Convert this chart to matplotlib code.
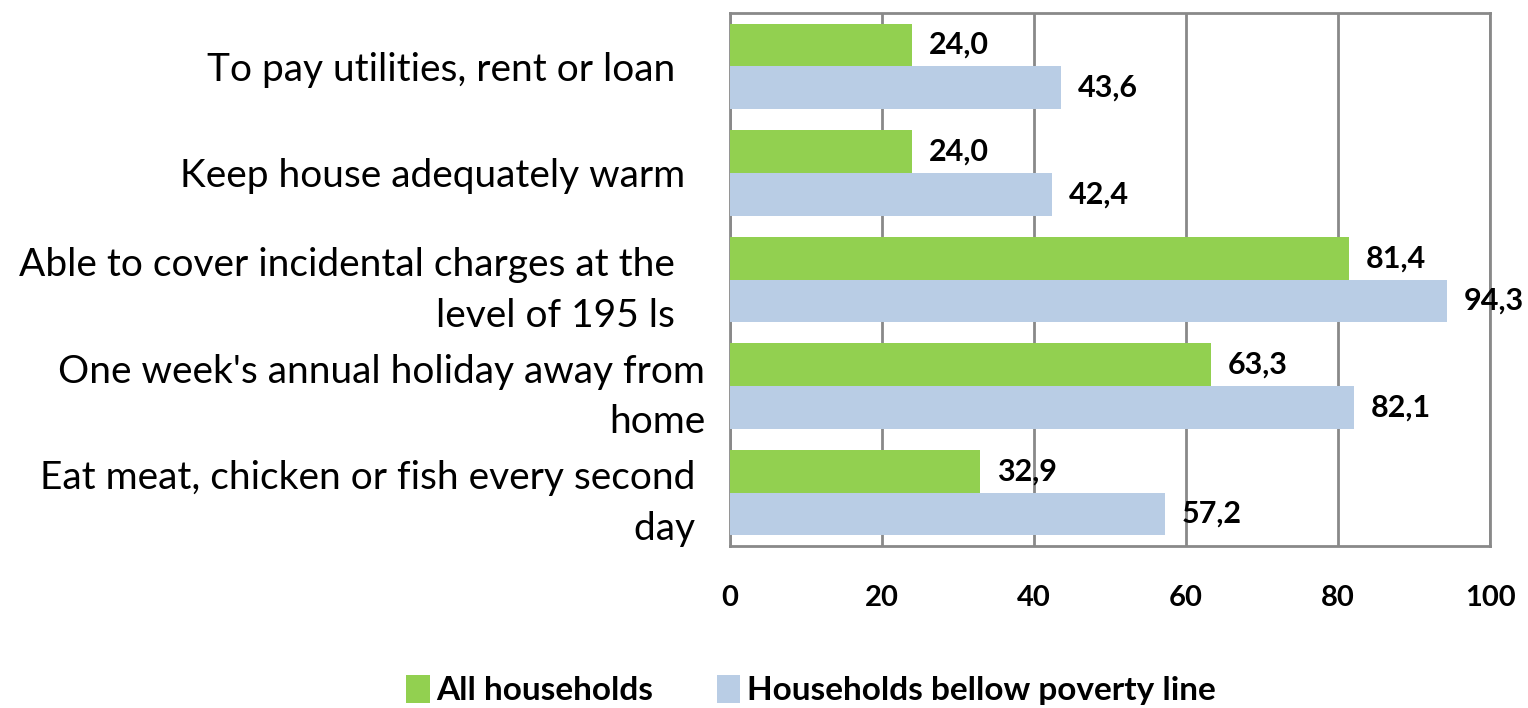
import matplotlib
matplotlib.use("Agg")
import matplotlib.pyplot as plt
import numpy as np

categories = [
    "To pay utilities, rent or loan   ",
    "Keep house adequately warm  ",
    "Able to cover incidental charges at the   \nlevel of 195 ls   ",
    "One week's annual holiday away from\nhome",
    "Eat meat, chicken or fish every second \nday ",
]
all_households = [24.0, 24.0, 81.4, 63.3, 32.9]
poverty_households = [43.6, 42.4, 94.3, 82.1, 57.2]
series_names = ["All households", "Households bellow poverty line"]
xticks = [0, 20, 40, 60, 80, 100]

plt.rcParams['font.family'] = ['Lato', 'DejaVu Sans']

fig = plt.figure(figsize=(15.28, 7.08), dpi=100)
ax = fig.add_axes([730/1528, 1-546/708, 760/1528, 533/708])

green = "#92D050"
blue = "#B9CDE5"
grid = "#898989"

y = np.arange(len(categories))
h = 0.4
ax.barh(y - h/2, all_households, height=h, color=green, label=series_names[0], zorder=3)
ax.barh(y + h/2, poverty_households, height=h, color=blue, label=series_names[1], zorder=3)

for yi, v in zip(y, all_households):
    ax.annotate(f"{v:.1f}".replace(".", ","), (v, yi - h/2), xytext=(12, 0),
                textcoords="offset points", va="center", ha="left",
                fontsize=22, fontweight="bold")
for yi, v in zip(y, poverty_households):
    ax.annotate(f"{v:.1f}".replace(".", ","), (v, yi + h/2), xytext=(12, 0),
                textcoords="offset points", va="center", ha="left",
                fontsize=22, fontweight="bold")

ax.set_xlim(0, 100)
ax.set_ylim(len(categories) - 0.5, -0.5)
ax.set_xticks(xticks)
ax.set_xticklabels([str(t) for t in xticks], fontsize=21, fontweight="bold")
ax.set_yticks(y)
ax.set_yticklabels(categories, fontsize=28, ha="right", linespacing=1.5)
ax.tick_params(axis="y", length=0, pad=18)
ax.tick_params(axis="x", length=0, pad=28)
ax.xaxis.grid(True, color=grid, linewidth=2, zorder=0)
for s in ax.spines.values():
    s.set_color(grid)
    s.set_linewidth(2)

handles, labels = ax.get_legend_handles_labels()
fig.legend(handles, labels, loc="center", bbox_to_anchor=(811/1528, 1-690/708),
           ncol=2, frameon=False, handlelength=0.7, handleheight=0.9,
           handletextpad=0.2, columnspacing=1.9,
           prop={"weight": "bold", "size": 24})

fig.savefig("out.png", dpi=100)
